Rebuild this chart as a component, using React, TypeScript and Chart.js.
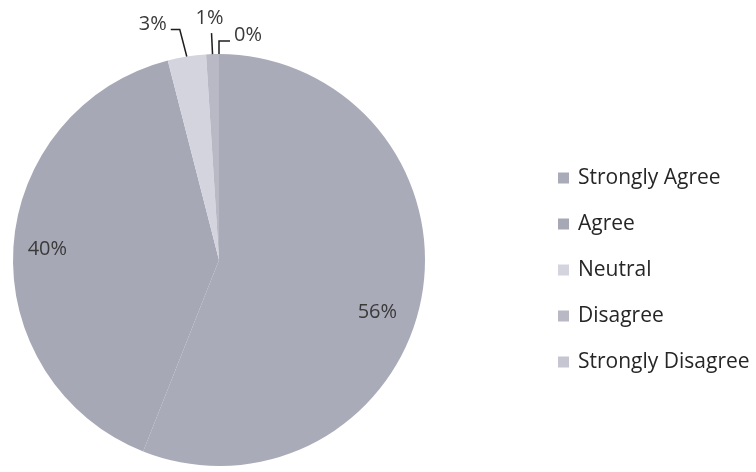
import React, { useEffect, useRef } from 'react';
import { Chart, registerables } from 'chart.js';

Chart.register(...registerables);

// ---- data ----
const categories = ['Strongly Agree', 'Agree', 'Neutral', 'Disagree', 'Strongly Disagree'];
const percentages = [56, 40, 3, 1, 0];
const sliceColors = ['#aaabb9', '#a7a8b6', '#d4d4df', '#b8b9c5', '#c5c6d1'];

const FONT = '"Open Sans", "DejaVu Sans", sans-serif';

const pieLabelPlugin = {
  id: 'pieLabels',
  afterDatasetsDraw(chart: any, _args: any, opts: any) {
    const ctx = chart.ctx;
    const meta = chart.getDatasetMeta(0);
    const data = chart.data.datasets[0].data;
    ctx.save();
    ctx.font = opts.font;
    ctx.fillStyle = opts.color;
    ctx.strokeStyle = opts.lineColor;
    ctx.lineWidth = opts.lineWidth;
    meta.data.forEach((arc: any, i: number) => {
      const { x, y, startAngle, endAngle, outerRadius } = arc.getProps(
        ['x', 'y', 'startAngle', 'endAngle', 'outerRadius'],
        true
      );
      const mid = (startAngle + endAngle) / 2;
      const p = opts.placements[i];
      const text = data[i] + '%';
      if (p.type === 'inside') {
        const a = mid + (p.angleShift * Math.PI) / 180;
        const r = outerRadius * p.radius;
        ctx.textAlign = 'center';
        ctx.textBaseline = 'middle';
        ctx.fillText(text, x + r * Math.cos(a), y + r * Math.sin(a));
      } else {
        const ax = x + outerRadius * Math.cos(mid);
        const ay = y + outerRadius * Math.sin(mid);
        ctx.beginPath();
        ctx.moveTo(ax, ay);
        p.path.forEach(([dx, dy]: number[]) => ctx.lineTo(ax + dx, ay + dy));
        ctx.stroke();
        ctx.textAlign = p.align;
        ctx.textBaseline = 'middle';
        ctx.fillText(text, ax + p.text[0], ay + p.text[1]);
      }
    });
    ctx.restore();
  },
};

const sideLegendPlugin = {
  id: 'sideLegend',
  afterDraw(chart: any, _args: any, opts: any) {
    const ctx = chart.ctx;
    const labels = chart.data.labels as string[];
    const colors = chart.data.datasets[0].backgroundColor as string[];
    ctx.save();
    ctx.font = opts.font;
    ctx.textBaseline = 'middle';
    ctx.textAlign = 'left';
    labels.forEach((lab, i) => {
      const cy = opts.top + i * opts.spacing;
      ctx.fillStyle = colors[i];
      ctx.fillRect(opts.left, cy - opts.box / 2, opts.box, opts.box);
      ctx.fillStyle = opts.color;
      ctx.fillText(lab, opts.left + opts.box + opts.gap, cy);
    });
    ctx.restore();
  },
};

const bgPlugin = {
  id: 'bg',
  beforeDraw(chart: any) {
    const ctx = chart.ctx;
    ctx.save();
    ctx.fillStyle = '#ffffff';
    ctx.fillRect(0, 0, chart.width, chart.height);
    ctx.restore();
  },
};

export default function App() {
  const ref = useRef<HTMLCanvasElement | null>(null);

  useEffect(() => {
    document.body.style.margin = '0';
    if (!ref.current) return;
    const chart = new Chart(ref.current, {
      type: 'pie',
      data: {
        labels: categories,
        datasets: [
          {
            data: percentages,
            backgroundColor: sliceColors,
            borderWidth: 0,
            hoverOffset: 0,
          },
        ],
      },
      options: {
        animation: false,
        responsive: false,
        devicePixelRatio: 1,
        layout: { padding: { left: 13, top: 54, right: 331, bottom: 6 } },
        plugins: {
          legend: { display: false },
          tooltip: { enabled: false },
          pieLabels: {
            font: `20px ${FONT}`,
            color: '#3a3a3a',
            lineColor: '#1e1e1e',
            lineWidth: 1.5,
            placements: [
              { type: 'inside', angleShift: 7.6, radius: 0.81 },
              { type: 'inside', angleShift: 0, radius: 0.835 },
              { type: 'outside', path: [[-7, -27], [-16, -27]], text: [-20, -32], align: 'right' },
              { type: 'outside', path: [[-1, -21]], text: [-3, -36], align: 'center' },
              { type: 'outside', path: [[0, -13], [11, -13]], text: [15, -19], align: 'left' },
            ],
          },
          sideLegend: {
            font: `21px ${FONT}`,
            color: '#262626',
            left: 558,
            top: 178,
            spacing: 46,
            box: 11,
            gap: 9,
          },
        } as any,
      },
      plugins: [bgPlugin, pieLabelPlugin, sideLegendPlugin],
    });
    return () => chart.destroy();
  }, []);

  return (
    <div style={{ position: 'absolute', left: 0, top: 0, width: 756, height: 472 }}>
      <canvas ref={ref} width={756} height={472} />
    </div>
  );
}
